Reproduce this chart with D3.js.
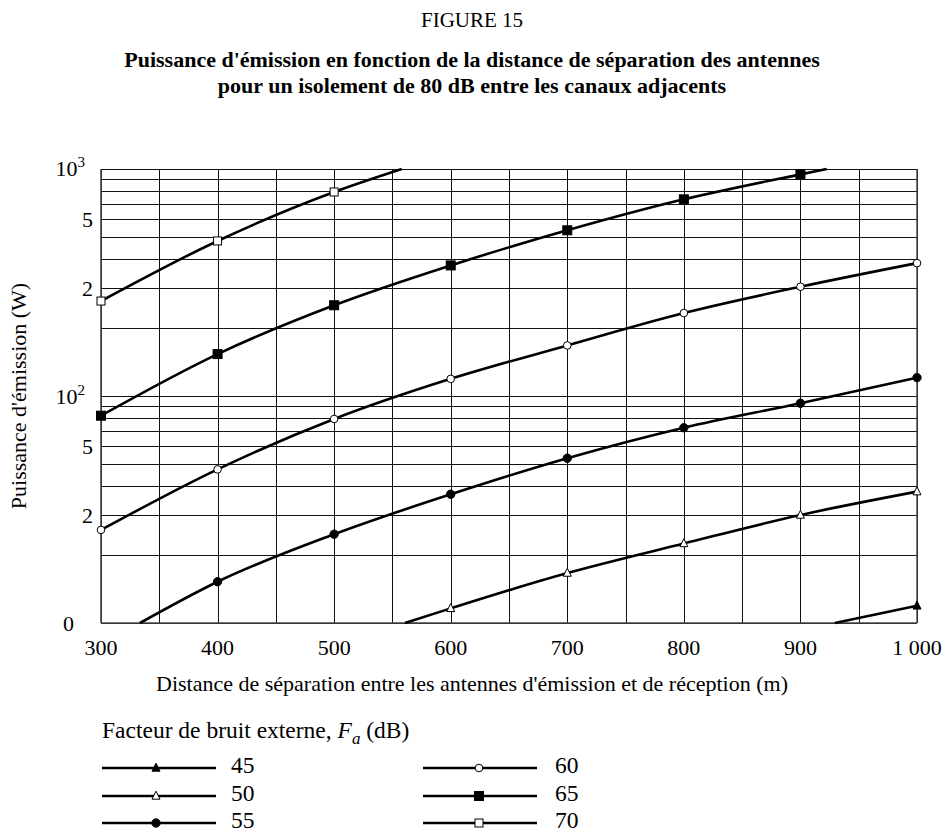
<!DOCTYPE html>
<html><head><meta charset="utf-8">
<script src="https://cdn.jsdelivr.net/npm/d3@7"></script>
<style>body{margin:0;background:#fff;}</style>
</head>
<body><svg id="c" width="945" height="832"></svg>
<script>
// ---- data ----
const xTicks = [300,400,500,600,700,800,900,1000];
const xTickLabels = ["300","400","500","600","700","800","900","1 000"];
const yGrid = [10,20,30,40,50,60,70,80,90,100,200,300,400,500,600,700,800,900,1000];
const yTickVals = [1000,600,300,100,60,30,10];
const yTickLabels = ["10^3","5","2","10^2","5","2","0"];
const faLabels = ["45","50","55","60","65","70"];
const faMarkers = ["triFilled","triOpen","circFilled","circOpen","sqFilled","sqOpen"];
const fa45X = [929.5,1000];
const fa45Y = [10,11.9];
const fa50X = [560.7,600,700,800,900,1000];
const fa50Y = [10,11.6,16.6,22.4,29.9,37.9];
const fa55X = [333.4,400,500,600,700,800,900,1000];
const fa55Y = [10,15.2,24.6,36.9,53.2,72.5,92.9,120.5];
const fa60X = [300,400,500,600,700,800,900,1000];
const fa60Y = [25.7,47.5,79.2,119,167,232,303,385];
const fa65X = [300,400,500,600,700,800,900,922.6];
const fa65Y = [81.9,153,251,376,537,735,947,1000];
const fa70X = [300,400,500,558];
const fa70Y = [262,482,792,1000];
const seriesX = [fa45X,fa50X,fa55X,fa60X,fa65X,fa70X];
const seriesY = [fa45Y,fa50Y,fa55Y,fa60Y,fa65Y,fa70Y];

// ---- layout ----
const svg = d3.select("#c");
const FONT = "Liberation Serif";
const FS = 22, LFS = 23.5;
const L=101,R=917,T=169,B=623;
const x = d3.scaleLinear().domain([300,1000]).range([L,R]);
const y = d3.scaleLog().domain([10,1000]).range([B,T]);

function txt(parent, size){
  return parent.append("text").attr("font-family",FONT).attr("font-size",size).attr("fill","#000");
}

// titles
txt(svg,21).attr("x",472).attr("y",27).attr("text-anchor","middle").text("FIGURE 15");
txt(svg,FS).attr("x",472).attr("y",67).attr("text-anchor","middle").attr("font-weight","bold")
  .text("Puissance d'émission en fonction de la distance de séparation des antennes");
txt(svg,FS).attr("x",472).attr("y",93).attr("text-anchor","middle").attr("font-weight","bold")
  .text("pour un isolement de 80 dB entre les canaux adjacents");

// grid
const g = svg.append("g");
g.selectAll(".hg").data(yGrid).join("line")
  .attr("x1",L).attr("x2",R).attr("y1",d=>Math.round(y(d))+0.5).attr("y2",d=>Math.round(y(d))+0.5)
  .attr("stroke","#111").attr("stroke-width",1);
g.selectAll(".vg").data(d3.range(300,1001,50)).join("line")
  .attr("y1",T).attr("y2",B).attr("x1",d=>Math.round(x(d))+0.5).attr("x2",d=>Math.round(x(d))+0.5)
  .attr("stroke","#111").attr("stroke-width",1);
g.append("line").attr("x1",L).attr("x2",L).attr("y1",T).attr("y2",B).attr("stroke","#444").attr("stroke-width",1.6);
g.append("line").attr("x1",L).attr("x2",R).attr("y1",B).attr("y2",B).attr("stroke","#444").attr("stroke-width",1.6);
g.append("line").attr("x1",R).attr("x2",R).attr("y1",T).attr("y2",B).attr("stroke","#444").attr("stroke-width",1.4);

// x tick labels
xTicks.forEach((d,i)=>{
  txt(svg,FS).attr("x",x(d)).attr("y",B+32).attr("text-anchor","middle").text(xTickLabels[i]);
});
// y tick labels
yTickVals.forEach((v,i)=>{
  const lab = yTickLabels[i];
  const t = txt(svg,FS).attr("y",y(v)+(i===0?7:8));
  if(lab.indexOf("^")>=0){
    const [base,exp]=lab.split("^");
    t.attr("x",85).attr("text-anchor","end");
    t.append("tspan").text(base);
    t.append("tspan").attr("dy",-9).attr("font-size",15).text(exp);
  } else {
    t.attr("x",lab==="0"?74:93).attr("text-anchor","end").text(lab);
  }
});

// axis titles
txt(svg,FS).attr("transform","translate(26,396) rotate(-90)").attr("text-anchor","middle")
  .text("Puissance d'émission (W)");
txt(svg,FS).attr("x",472).attr("y",691).attr("text-anchor","middle")
  .text("Distance de séparation entre les antennes d'émission et de réception (m)");

// markers
function marker(sel,type,cx,cy){
  const filled = type.indexOf("Filled")>=0;
  const fill = filled?"#000":"#fff";
  if(type.startsWith("tri")){
    const s=8;
    sel.append("path").attr("d",`M${cx},${cy-s*0.6}L${cx+s/2},${cy+s*0.4}L${cx-s/2},${cy+s*0.4}Z`)
      .attr("fill",fill).attr("stroke","#000").attr("stroke-width",1);
  } else if(type.startsWith("circ")){
    sel.append("circle").attr("cx",cx).attr("cy",cy).attr("r",filled?4.2:3.8)
      .attr("fill",fill).attr("stroke","#000").attr("stroke-width",1);
  } else {
    const s=filled?9:8;
    sel.append("rect").attr("x",cx-s/2).attr("y",cy-s/2).attr("width",s).attr("height",s)
      .attr("fill",fill).attr("stroke","#000").attr("stroke-width",1);
  }
}

const line = d3.line().x(d=>x(d[0])).y(d=>y(d[1])).curve(d3.curveMonotoneX);
const lg = svg.append("g");
seriesX.forEach((xs,i)=>{
  const pts = xs.map((xv,j)=>[xv,seriesY[i][j]]);
  lg.append("path").attr("d",line(pts)).attr("fill","none").attr("stroke","#000").attr("stroke-width",2.6);
  pts.filter(p=>xTicks.includes(p[0])).forEach(p=>marker(lg,faMarkers[i],x(p[0]),y(p[1])));
});

// legend
const leg = svg.append("g");
const lt = txt(leg,LFS).attr("x",102).attr("y",738);
lt.append("tspan").text("Facteur de bruit externe, ");
lt.append("tspan").attr("font-style","italic").text("F");
lt.append("tspan").attr("font-style","italic").attr("font-size",17).attr("dy",6).text("a");
lt.append("tspan").attr("dy",-6).text(" (dB)");
const rowsY=[768,796,823];
faLabels.forEach((lab,i)=>{
  const col = Math.floor(i/3), row=i%3;
  const x0 = col===0?102:423, x1 = col===0?216:537, xm = col===0?156:479, xl = col===0?231:555;
  const yy = rowsY[row];
  leg.append("line").attr("x1",x0).attr("x2",x1).attr("y1",yy).attr("y2",yy).attr("stroke","#000").attr("stroke-width",2.6);
  marker(leg,faMarkers[i],xm,yy);
  txt(leg,LFS).attr("x",xl).attr("y",yy+5).text(lab);
});
</script></body></html>
